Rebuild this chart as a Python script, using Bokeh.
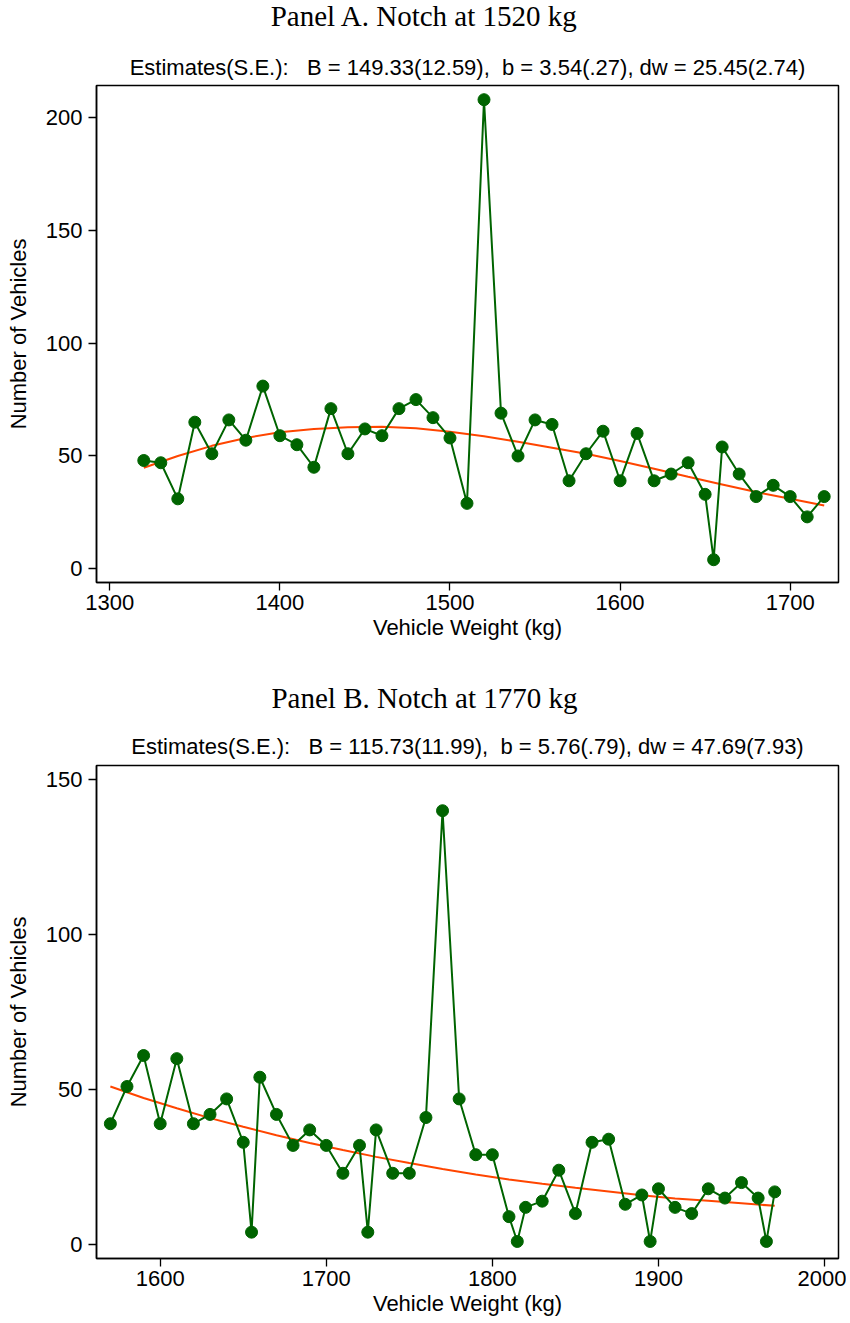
from bokeh.plotting import figure
from bokeh.layouts import column
from bokeh.models import Range1d, FixedTicker
from bokeh.core.properties import value
from bokeh.embed import file_html
from bokeh.resources import INLINE

# ---------------- data ----------------
a_weight = [1320, 1330, 1340, 1350, 1360, 1370, 1380, 1390, 1400, 1410, 1420, 1430,
            1440, 1450, 1460, 1470, 1480, 1490, 1500, 1510, 1520, 1530, 1540, 1550,
            1560, 1570, 1580, 1590, 1600, 1610, 1620, 1630, 1640, 1650, 1655, 1660,
            1670, 1680, 1690, 1700, 1710, 1720]
a_count = [48, 47, 31, 65, 51, 66, 57, 81, 59, 55, 45, 71,
           51, 62, 59, 71, 75, 67, 58, 29, 208, 69, 50, 66,
           64, 39, 51, 61, 39, 60, 39, 42, 47, 33, 4, 54,
           42, 32, 37, 32, 23, 32]
a_fit_weight = [1320, 1340, 1360, 1380, 1400, 1420, 1440, 1460, 1480, 1500, 1520,
                1540, 1560, 1580, 1600, 1620, 1640, 1660, 1680, 1700, 1720]
a_fit = [44.8, 50, 54.5, 58, 60.5, 62, 62.8, 63, 62.3, 60.8, 58.8,
         56.3, 53.7, 51, 47.8, 44.3, 40.8, 37.4, 34, 31, 28]

b_weight = [1570, 1580, 1590, 1600, 1610, 1620, 1630, 1640, 1650, 1655, 1660, 1670,
            1680, 1690, 1700, 1710, 1720, 1725, 1730, 1740, 1750, 1760, 1770, 1780,
            1790, 1800, 1810, 1815, 1820, 1830, 1840, 1850, 1860, 1870, 1880, 1890,
            1895, 1900, 1910, 1920, 1930, 1940, 1950, 1960, 1965, 1970]
b_count = [39, 51, 61, 39, 60, 39, 42, 47, 33, 4, 54, 42,
           32, 37, 32, 23, 32, 4, 37, 23, 23, 41, 140, 47,
           29, 29, 9, 1, 12, 14, 24, 10, 33, 34, 13, 16,
           1, 18, 12, 10, 18, 15, 20, 15, 1, 17]
b_fit_weight = [1570, 1590, 1610, 1630, 1650, 1670, 1690, 1710, 1730, 1750, 1770,
                1790, 1810, 1830, 1850, 1870, 1890, 1910, 1930, 1950, 1970]
b_fit = [51, 47.3, 44, 40.8, 38, 35.3, 32.8, 30.5, 28.3, 26.3, 24.4,
         22.6, 21, 19.6, 18.3, 17.1, 15.9, 14.9, 14.1, 13.3, 12.5]

a_xticks = [1300, 1400, 1500, 1600, 1700]
a_yticks = [0, 50, 100, 150, 200]
b_xticks = [1600, 1700, 1800, 1900, 2000]
b_yticks = [0, 50, 100, 150]

a_title = "Panel A. Notch at 1520 kg"
a_sub = "Estimates(S.E.):\u00a0\u00a0 B = 149.33(12.59),\u00a0 b = 3.54(.27), dw = 25.45(2.74)"
b_title = "Panel B. Notch at 1770 kg"
b_sub = "Estimates(S.E.):\u00a0\u00a0 B = 115.73(11.99),\u00a0 b = 5.76(.79), dw = 47.69(7.93)"

GREEN = "#006400"
ORANGE = "#ff4500"
SANS = "Liberation Sans"
SERIF = "Liberation Serif"

W = 846
BL = 96      # left border -> frame left
BR = 8       # right border
FRAME_H = 497


def header(height, title, sub, title_from_bottom, sub_from_bottom):
    # the column aligns frames, so this frame spans page x BL..W-BR: use page pixels as data
    h = figure(width=W, height=height, output_backend="svg", toolbar_location=None,
               x_range=Range1d(BL, W - BR), y_range=Range1d(0, height),
               x_axis_type=None, y_axis_type=None,
               min_border_left=BL, min_border_right=BR, min_border_top=0, min_border_bottom=0)
    h.outline_line_color = None
    h.background_fill_color = "white"
    h.border_fill_color = "white"
    h.xgrid.visible = False
    h.ygrid.visible = False
    h.text(x=[424], y=[title_from_bottom], text=[title], text_font=value(SERIF),
           text_font_size="29px", text_align="center", text_baseline="middle",
           text_color="black")
    h.text(x=[BL + (W - BL - BR) / 2], y=[sub_from_bottom], text=[sub], text_font=value(SANS),
           text_font_size="22px", text_align="center", text_baseline="middle",
           text_color="black")
    return h


def panel(xw, yc, fx, fy, xr, yr, xt, yt, height, btop, bbottom):
    p = figure(width=W, height=height, output_backend="svg", toolbar_location=None,
               x_range=Range1d(*xr), y_range=Range1d(*yr),
               min_border_left=BL, min_border_right=BR,
               min_border_top=btop, min_border_bottom=bbottom)
    p.background_fill_color = "white"
    p.border_fill_color = "white"
    p.outline_line_color = "black"
    p.outline_line_width = 1.5
    p.xgrid.visible = False
    p.ygrid.visible = False

    p.line(fx, fy, color=ORANGE, line_width=2)
    p.line(xw, yc, color=GREEN, line_width=2)
    p.scatter(xw, yc, size=12, color=GREEN)

    for ax, ticks in ((p.xaxis[0], xt), (p.yaxis[0], yt)):
        ax.ticker = FixedTicker(ticks=ticks)
        ax.minor_tick_line_color = None
        ax.major_tick_out = 8
        ax.major_tick_in = 0
        ax.major_tick_line_width = 1.3
        ax.major_tick_line_color = "black"
        ax.axis_line_color = "black"
        ax.axis_line_width = 1.5
        ax.major_label_text_font = SANS
        ax.major_label_text_font_size = "22px"
        ax.major_label_text_color = "black"
        ax.axis_label_text_font = SANS
        ax.axis_label_text_font_size = "22px"
        ax.axis_label_text_font_style = "normal"
        ax.axis_label_text_color = "black"
    p.xaxis.axis_label = "Vehicle Weight (kg)"
    p.yaxis.axis_label = "Number of Vehicles"
    p.xaxis.major_label_standoff = 4
    p.xaxis.axis_label_standoff = 2
    p.yaxis.major_label_standoff = 6
    p.yaxis.axis_label_standoff = 12
    return p


# header A: page 0..80, frame A top at 85
ha = header(80, a_title, a_sub, 80 - 15, 80 - 67)
pa = panel(a_weight, a_count, a_fit_weight, a_fit, (1292.2, 1728.4), (-6.1, 214.3),
           a_xticks, a_yticks, 562, 5, 60)
# header B: page 642..760, frame B top at 765
hb = header(118, b_title, b_sub, 760 - 697, 760 - 746)
pb = panel(b_weight, b_count, b_fit_weight, b_fit, (1561.65, 2008.4), (-4.5, 154.6),
           b_xticks, b_yticks, 558, 5, 56)

layout = column(ha, pa, hb, pb)
open("out.html", "w").write(file_html(layout, INLINE))
